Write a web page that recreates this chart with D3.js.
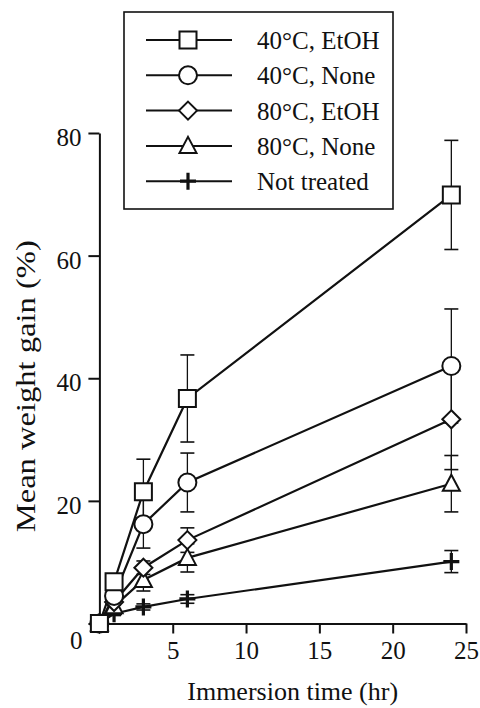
<!DOCTYPE html>
<html>
<head>
<meta charset="utf-8">
<script src="https://cdn.jsdelivr.net/npm/d3@7"></script>
<style>
  html, body { margin: 0; padding: 0; background: #fff; }
  svg { display: block; }
  text { font-family: "Liberation Serif", "DejaVu Serif", serif; fill: #111; }
</style>
</head>
<body>
<svg id="chart" width="480" height="708"></svg>
<script>
// ---- data ----
const times = [0, 1, 3, 6, 24];
const seriesNames = ["40°C, EtOH", "40°C, None", "80°C, EtOH", "80°C, None", "Not treated"];
const markerTypes = ["square", "circle", "diamond", "triangle", "plus"];
const sq40Etoh   = [0, 6.8, 21.5, 36.7, 69.9];
const sq40EtohErr= [0, 0.6, 5.3, 7.1, 8.9];
const ci40None   = [0, 4.5, 16.2, 23.0, 42.0];
const ci40NoneErr= [0, 0.5, 3.9, 4.8, 9.3];
const di80Etoh   = [0, 3.5, 9.1, 13.6, 33.3];
const di80EtohErr= [0, 0.5, 1.1, 2.0, 8.2];
const tr80None   = [0, 2.8, 7.1, 10.7, 22.8];
const tr80NoneErr= [0, 0.4, 1.8, 2.3, 4.6];
const notTreated = [0, 1.6, 2.7, 4.0, 10.1];
const notTreatedErr = [0, 0.3, 0.5, 0.7, 1.8];
const yTicks = [0, 20, 40, 60, 80];
const xTicks = [5, 10, 15, 20, 25];
const xTitle = "Immersion time (hr)";
const yTitle = "Mean weight gain (%)";

const values = [sq40Etoh, ci40None, di80Etoh, tr80None, notTreated];
const errors = [sq40EtohErr, ci40NoneErr, di80EtohErr, tr80NoneErr, notTreatedErr];
const series = seriesNames.map((name, i) => ({
  name, marker: markerTypes[i],
  points: times.map((t, j) => ({ t, v: values[i][j], e: errors[i][j] }))
}));

// ---- layout ----
const svg = d3.select("#chart");
const x = d3.scaleLinear().domain([0, 25]).range([99.4, 466]);
const y = d3.scaleLinear().domain([0, 80]).range([623.5, 133]);
const FS = 25;

// markers
function markerPath(type) {
  switch (type) {
    case "square": return "M-8.5,-8.5H8.5V8.5H-8.5Z";
    case "circle": { const p = d3.path(); p.arc(0, 0, 9, 0, 2 * Math.PI); p.closePath(); return p.toString(); }
    case "diamond": return "M0,-9L9,0L0,9L-9,0Z";
    case "triangle": return "M0,-9L8.5,7L-8.5,7Z";
    case "plus": return "M-8,0H8M0,-8.5V8.5";
  }
}
function drawMarker(g, type) {
  g.append("path")
    .attr("d", markerPath(type))
    .attr("fill", type === "plus" ? "none" : "#fff")
    .attr("stroke", "#111")
    .attr("stroke-width", type === "plus" ? 3.2 : 2);
}

// axes
const yAxis = d3.axisLeft(y).tickValues(yTicks).tickSize(11).tickSizeOuter(0).tickPadding(7)
  .tickFormat(d => d === 0 ? "" : d);
const gy = svg.append("g").attr("transform", `translate(${x(0)},0)`).call(yAxis);
gy.select(".domain").attr("stroke", "#111").attr("stroke-width", 2);
gy.selectAll(".tick line").attr("stroke", "#111").attr("stroke-width", 2);
gy.selectAll(".tick text").attr("font-size", FS).attr("font-family", "Liberation Serif")
  .attr("dy", "0.5em").attr("fill", "#111");

const xAxis = d3.axisBottom(x).tickValues(xTicks).tickSize(10).tickSizeOuter(0).tickPadding(12);
const gx = svg.append("g").attr("transform", `translate(0,${y(0)})`).call(xAxis);
gx.select(".domain").attr("stroke", "#111").attr("stroke-width", 2);
gx.selectAll(".tick line").attr("stroke", "#111").attr("stroke-width", 2);
gx.selectAll(".tick text").attr("font-size", FS).attr("font-family", "Liberation Serif")
  .attr("dy", "0.55em").attr("fill", "#111");

// shared origin label
svg.append("text").attr("x", x(0) - 17).attr("y", y(0) + 25.5)
  .attr("text-anchor", "end").attr("font-size", FS).text(yTicks[0]);

// titles
svg.append("text").attr("x", (x(0) + x(25)) / 2 + 10).attr("y", 700)
  .attr("text-anchor", "middle").attr("font-size", FS + 1).text(xTitle);
svg.append("text").attr("transform", `translate(35,${(y(0) + y(80)) / 2 + 8}) rotate(-90)`)
  .attr("text-anchor", "middle").attr("font-size", FS + 2)
  .attr("textLength", 292).attr("lengthAdjust", "spacingAndGlyphs").text(yTitle);

// error bars
const eb = svg.append("g");
series.forEach(s => {
  s.points.filter(p => p.e > 0).forEach(p => {
    const cx = x(p.t);
    eb.append("line").attr("x1", cx).attr("x2", cx).attr("y1", y(p.v - p.e)).attr("y2", y(p.v + p.e))
      .attr("stroke", "#111").attr("stroke-width", 1.3);
    [p.v - p.e, p.v + p.e].forEach(v => {
      eb.append("line").attr("x1", cx - 7).attr("x2", cx + 7).attr("y1", y(v)).attr("y2", y(v))
        .attr("stroke", "#111").attr("stroke-width", 1.6);
    });
  });
});

// lines
const line = d3.line().x(p => x(p.t)).y(p => y(p.v));
series.forEach(s => {
  svg.append("path").datum(s.points).attr("d", line)
    .attr("fill", "none").attr("stroke", "#111").attr("stroke-width", 2.2);
});

// markers (draw bottom series first so squares on top)
series.slice().reverse().forEach(s => {
  s.points.forEach(p => {
    const g = svg.append("g").attr("transform", `translate(${x(p.t)},${y(p.v)})`);
    drawMarker(g, s.marker);
  });
});

// legend
const leg = svg.append("g");
leg.append("rect").attr("x", 124).attr("y", 12).attr("width", 269).attr("height", 197)
  .attr("fill", "#fff").attr("stroke", "#111").attr("stroke-width", 1.6);
series.forEach((s, i) => {
  const ry = 40 + i * 35.3;
  leg.append("line").attr("x1", 146).attr("x2", 232).attr("y1", ry).attr("y2", ry)
    .attr("stroke", "#111").attr("stroke-width", 2);
  const g = leg.append("g").attr("transform", `translate(188,${ry})`);
  drawMarker(g, s.marker);
  leg.append("text").attr("x", 257).attr("y", ry + 9).attr("font-size", FS).text(s.name);
});
</script>
</body>
</html>
